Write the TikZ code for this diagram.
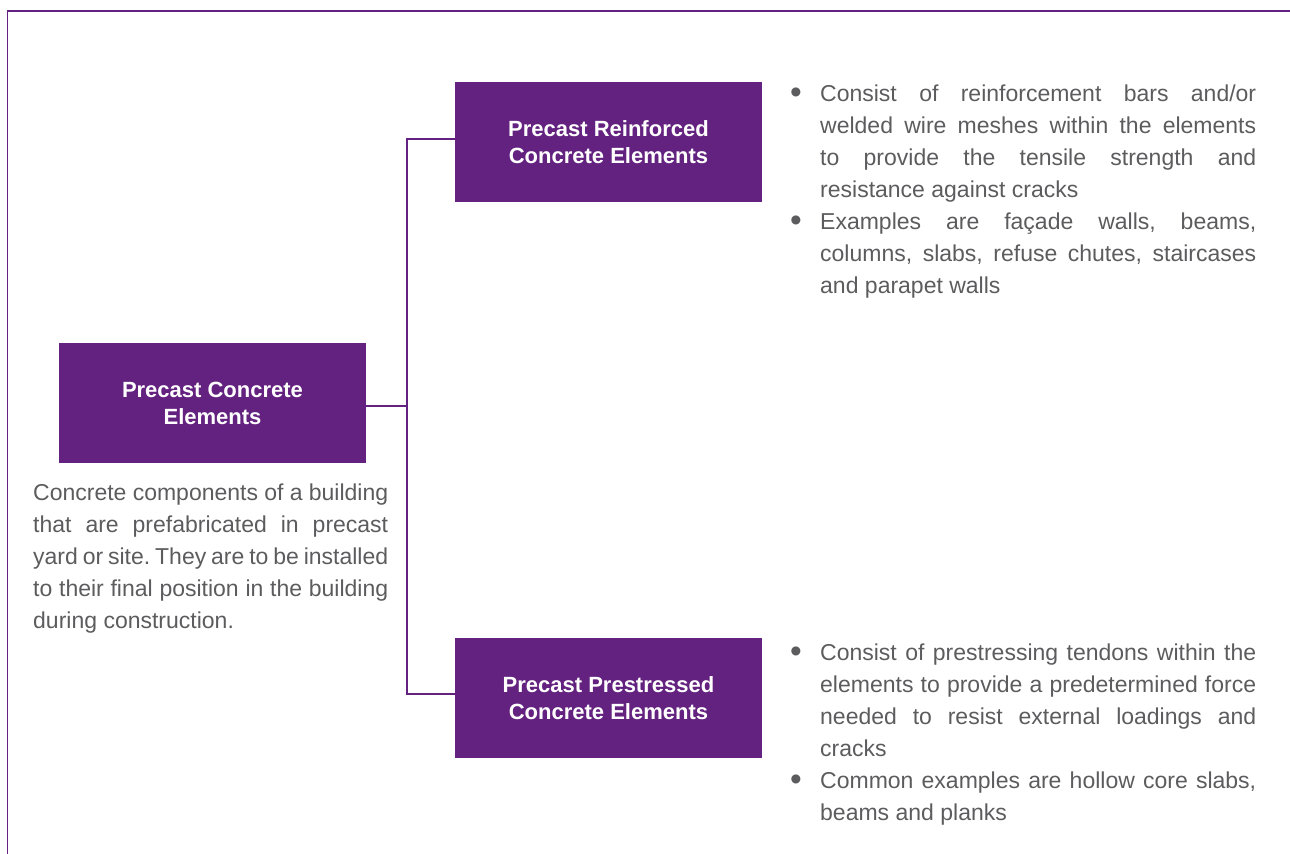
\documentclass[tikz,border=0pt]{standalone}
\usepackage{fontspec}
\setmainfont{Liberation Sans}

\definecolor{brandpurple}{RGB}{100,34,128}
\definecolor{bodygray}{RGB}{92,92,94}

\newcommand\titlefont{\fontsize{22bp}{27bp}\selectfont\bfseries}
\newcommand\bodyfont{\fontsize{23bp}{32bp}\selectfont\frenchspacing\spaceskip=0.278em plus 0.3em minus 0.12em}
% bullet point with hanging indent
\newcommand\bitem[1]{\noindent\hangindent=30bp\hangafter=1\makebox[30bp][l]{\raisebox{-1.5bp}{\scalebox{1.45}{\textbullet}}}#1\par}

\tikzset{
  catbox/.style={fill=brandpurple, draw=none, minimum width=307bp, minimum height=120bp,
    inner sep=0pt, text=white, font=\titlefont, align=center},
  bodytext/.style={inner sep=0pt, text=bodygray, font=\bodyfont, align=justify, anchor=base west},
  link/.style={draw=brandpurple, line width=2bp},
  frame/.style={draw=brandpurple, line width=1.6bp},
}

\begin{document}
\begin{tikzpicture}[x=1bp, y=-1bp]
  \useasboundingbox (0,0) rectangle (1290,854);

  % page frame (top and left rules)
  \draw[frame] (7.5,854) -- (7.5,11) -- (1290,11);

  % category boxes
  \node[catbox] (main) at (212.5,403) {Precast Concrete\\Elements};
  \node[catbox] (top)  at (608.5,142) {Precast Reinforced\\Concrete Elements};
  \node[catbox] (bot)  at (608.5,698) {Precast Prestressed\\Concrete Elements};

  % tree connectors
  \draw[link] ([yshift=-3bp]main.east) -- ++(41,0) coordinate (split);
  \draw[link] ([yshift=3bp]top.west) -| (split) |- ([yshift=4bp]bot.west);

  % description under the main box
  \node[bodytext, text width=355bp] (maindesc) at (33,500) {%
    Concrete components of a building\linebreak
    that are prefabricated in precast\linebreak
    yard or site. They are to be installed\linebreak
    to their final position in the building\linebreak
    during construction.};

  % notes for reinforced elements
  \node[bodytext, text width=466bp] (topnotes) at (790,101.5) {%
    \bitem{Consist of reinforcement bars and/or\linebreak
      welded wire meshes within the elements\linebreak
      to provide the tensile strength and\linebreak
      resistance against cracks}%
    \bitem{Examples are façade walls, beams,\linebreak
      columns, slabs, refuse chutes, staircases\linebreak
      and parapet walls}};

  % notes for prestressed elements
  \node[bodytext, text width=466bp] (botnotes) at (790,660.5) {%
    \bitem{Consist of prestressing tendons within the\linebreak
      elements to provide a predetermined force\linebreak
      needed to resist external loadings and\linebreak
      cracks}%
    \bitem{Common examples are hollow core slabs,\linebreak
      beams and planks}};
\end{tikzpicture}
\end{document}
